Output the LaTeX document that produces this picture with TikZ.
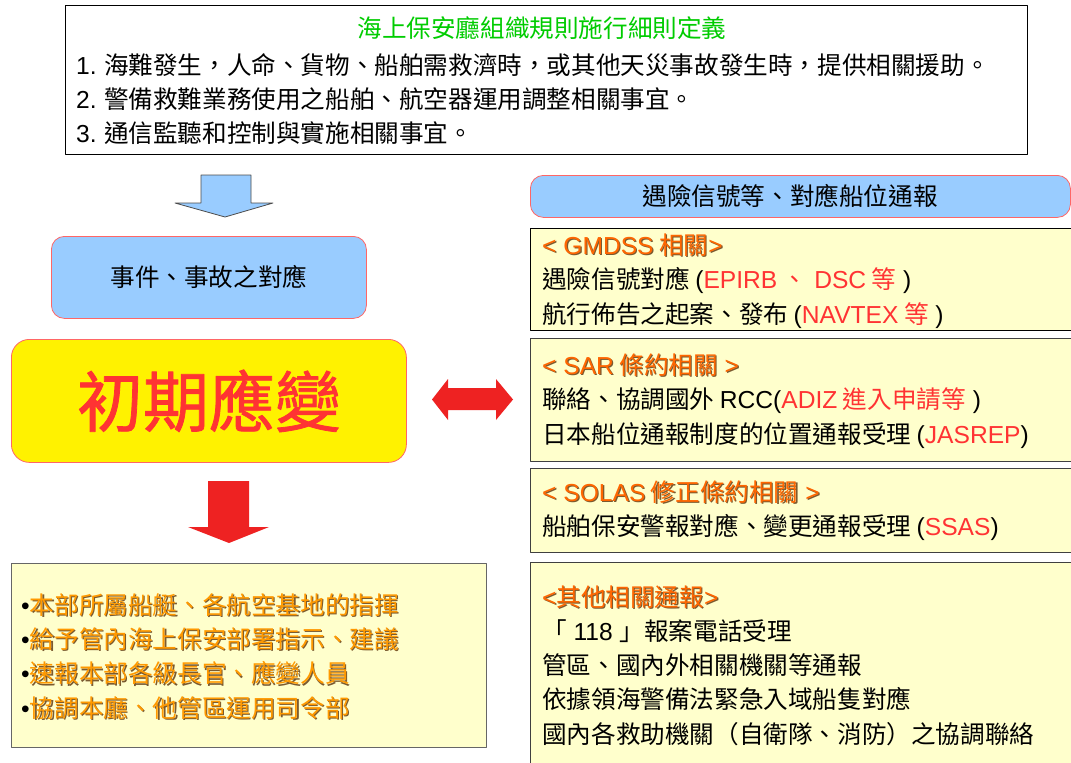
\documentclass[tikz,border=0pt]{standalone}
\usepackage{fontspec}
\setmainfont{Noto Sans CJK TC}
\newfontfamily\latinfont{Liberation Sans}
\newfontfamily\bigfont[FakeBold=1.2]{Noto Sans CJK TC}
\usepackage{xcolor}
\usetikzlibrary{calc}

\definecolor{skyfill}{HTML}{99CCFF}
\definecolor{paleyellow}{HTML}{FFFFCC}
\definecolor{alertred}{HTML}{FF3333}
\definecolor{arrowred}{HTML}{EE2222}
\definecolor{headorange}{HTML}{FF6600}
\definecolor{taskorange}{HTML}{FF9900}
\definecolor{shadowbrown}{HTML}{7A5A30}
\definecolor{titlegreen}{HTML}{00CC00}
\definecolor{edgered}{HTML}{FF6666}

\newcommand\en[1]{{\latinfont #1}}
\newcommand\rd[1]{\textcolor{alertred}{#1}}
\newcommand\shd[2]{\leavevmode\rlap{\kern1.2pt\raisebox{-1.2pt}{\textcolor{shadowbrown}{#2}}}\textcolor{#1}{#2}}

\tikzset{
  txt/.style={font=\fontsize{24.6}{34.3}\selectfont, inner sep=0pt, align=left},
  listbox/.style={draw=black!75, line width=1.3pt, fill=paleyellow, anchor=north west, inner sep=0pt},
  skybox/.style={draw=edgered, line width=0.8pt, fill=skyfill, rounded corners=13pt, anchor=north west, inner sep=0pt},
}

\begin{document}
\begin{tikzpicture}[x=1pt, y=-1pt, line join=round]
  \useasboundingbox (0,0) rectangle (1071,763);
  \clip (0,0) rectangle (1071,763);

  \node[draw=black, line width=1pt, fill=white, anchor=north west, minimum width=962pt, minimum height=149pt] (rule) at (65,5) {};
  \node[txt, text=titlegreen] (ruletitle) at (542,28) {海上保安廳組織規則施行細則定義};
  \node[txt, anchor=west] (rulebody) at (76,99) {\en{1.} 海難發生，人命、貨物、船舶需救濟時，或其他天災事故發生時，提供相關援助。\\
    \en{2.} 警備救難業務使用之船舶、航空器運用調整相關事宜。\\
    \en{3.} 通信監聽和控制與實施相關事宜。};

  \draw[fill=skyfill, draw=black!70, line width=0.8pt] (201,175) -- (251,175) -- (251,203) -- (273,203) -- (225,217) -- (175,203) -- (201,203) -- cycle;

  \node[skybox, minimum width=315pt, minimum height=82pt] (event) at (51,236) {};
  \node[txt] (eventtext) at (event.center) {事件、事故之對應};

  \node[draw=edgered, line width=0.8pt, fill=yellow, rounded corners=18pt, anchor=north west, minimum width=395pt, minimum height=123pt] (initial) at (11,339) {};
  \node[font=\fontsize{66}{70}\selectfont\bigfont, text=alertred, inner sep=0pt] (initialtext) at (initial.center) {初期應變};

  \fill[arrowred] (432,399.5) -- (448,379) -- (448,388) -- (496,388) -- (496,379) -- (513,399.5) -- (496,420) -- (496,410) -- (448,410) -- (448,420) -- cycle;

  \fill[arrowred] (208,481) -- (249,481) -- (249,527) -- (269,527) -- (229,543) -- (188,527) -- (208,527) -- cycle;

  \node[listbox, draw=black!60, minimum width=475pt, minimum height=184pt] (tasks) at (11,563) {};
  \node[txt, anchor=west] (taskstext) at (21,657) {\en{•}\shd{taskorange}{本部所屬船艇、各航空基地的指揮}\\
    \en{•}\shd{taskorange}{給予管內海上保安部署指示、建議}\\
    \en{•}\shd{taskorange}{速報本部各級長官、應變人員}\\
    \en{•}\shd{taskorange}{協調本廳、他管區運用司令部}};

  \node[skybox, minimum width=540pt, minimum height=42pt] (report) at (530,175) {};
  \node[txt] (reporttext) at (790,196) {遇險信號等、對應船位通報};

  \node[listbox, draw=black, minimum width=560pt, minimum height=102pt] (gmdss) at (530,228) {};
  \node[txt, anchor=west] (gmdsstext) at (542,281) {\shd{headorange}{\en{<\ GMDSS} 相關\en{>}}\\
    遇險信號對應\ \en{(}\rd{\en{EPIRB} 、\en{ DSC} 等}\en{ )}\\
    航行佈告之起案、發布 \en{(}\rd{\en{NAVTEX} 等}\en{ )}};

  \node[listbox, minimum width=560pt, minimum height=123pt] (sar) at (530,338) {};
  \node[txt, anchor=west] (sartext) at (542,401) {\shd{headorange}{\en{<\ SAR} 條約相關\en{ >}}\\
    聯絡、協調國外 \en{RCC(}\rd{\en{ADIZ} 進入申請等}\en{ )}\\
    日本船位通報制度的位置通報受理 \en{(}\rd{\en{JASREP}}\en{)}};

  \node[listbox, minimum width=560pt, minimum height=84pt] (solas) at (530,468) {};
  \node[txt, anchor=west] (solastext) at (542,511) {\shd{headorange}{\en{<\ SOLAS} 修正條約相關\en{ >}}\\
    船舶保安警報對應、變更通報受理 \en{(}\rd{\en{SSAS}}\en{)}};

  \node[listbox, minimum width=560pt, minimum height=220pt] (other) at (530,562) {};
  \node[txt, anchor=west] (othertext) at (542,665.5) {\shd{headorange}{\en{<}其他相關通報\en{>}}\\
    「\en{ 118 }」報案電話受理\\
    管區、國內外相關機關等通報\\
    依據領海警備法緊急入域船隻對應\\
    國內各救助機關（自衛隊、消防）之協調聯絡};
\end{tikzpicture}
\end{document}
